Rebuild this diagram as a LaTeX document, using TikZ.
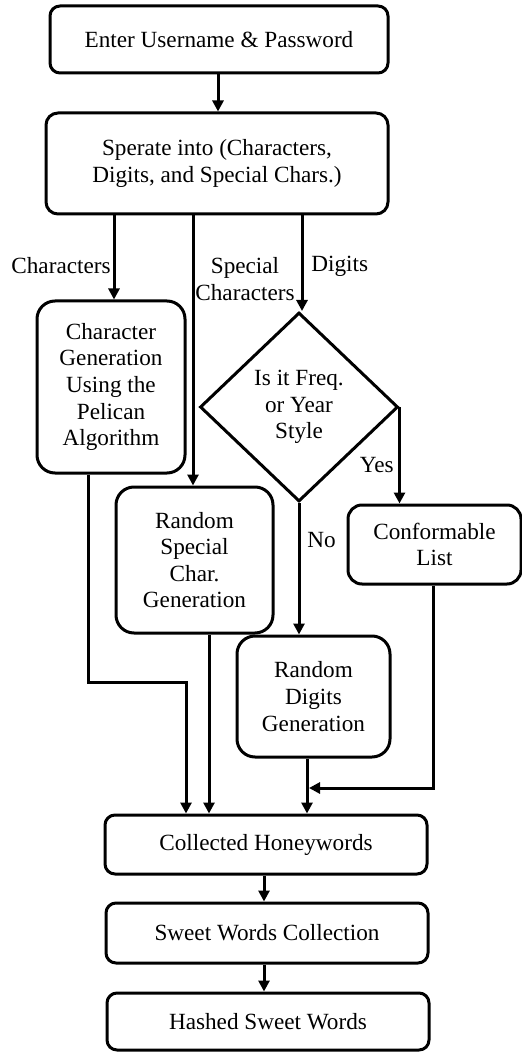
\documentclass[tikz,border=0pt]{standalone}
\usepackage{fontspec}
\setmainfont{Liberation Serif}
\usetikzlibrary{arrows.meta,calc,shapes.geometric}
\begin{document}
\begin{tikzpicture}[x=0.5pt,y=-0.5pt,
  every node/.style={font=\fontsize{11.6}{13.3}\selectfont, inner sep=0pt},
  box/.style={draw, line width=1.5pt, rounded corners=5pt, align=center},
  tallbox/.style={box, rounded corners=9pt},
  decision/.style={draw, line width=1.5pt, diamond, align=center, inner sep=0pt},
  arr/.style={line width=1.5pt, line join=miter, -{Triangle[length=5.5pt,width=5.5pt]}},
  lbl/.style={align=center}
]
\useasboundingbox (0,0) rectangle (521,1053);

\node[box, minimum width=169pt, minimum height=33.5pt] (enter) at (219,39.5) {Enter Username \& Password};
\node[box, rounded corners=6pt, minimum width=171pt, minimum height=50.5pt] (sep) at (217,163.5) {Sperate into (Characters,\\Digits, and Special Chars.)};
\node[tallbox, minimum width=74pt, minimum height=86pt] (chr) at (111,387) {Character\\Generation\\Using the\\Pelican\\Algorithm};
\node[tallbox, minimum width=78.5pt, minimum height=73pt] (spc) at (194.5,560) {Random\\Special\\Char.\\Generation};
\node[decision, minimum width=99pt, minimum height=94.5pt] (dec) at (299,407) {Is it Freq.\\or Year\\Style};
\node[tallbox, rounded corners=7pt, minimum width=86.5pt, minimum height=39.5pt] (conf) at (434.5,544.5) {Conformable\\List};
\node[tallbox, minimum width=76.5pt, minimum height=60.5pt] (dig) at (313.5,696.5) {Random\\Digits\\Generation};
\node[box, minimum width=161pt, minimum height=29.5pt] (coll) at (266,844.5) {Collected Honeywords};
\node[box, minimum width=161pt, minimum height=30pt] (sweet) at (267,933) {Sweet Words Collection};
\node[box, minimum width=161pt, minimum height=28.5pt] (hash) at (268,1021.5) {Hashed Sweet Words};

% labels
\node[lbl, anchor=east] (lchr) at (111,266) {Characters};
\node[lbl] (lspc) at (245,279) {Special\\Characters};
\node[lbl, anchor=west] (ldig) at (311,266) {Digits};
\node[lbl, anchor=east] (lyes) at (394,465) {Yes};
\node[lbl, anchor=west] (lno) at (307,540) {No};

% connectors
\coordinate (e1) at ($(enter.south)+(-1,0)$);
\draw[arr] (e1) -- (e1 |- sep.north);
\coordinate (c1) at ($(chr.north)+(3,0)$);
\draw[arr] (sep.south -| c1) -- (c1);
\coordinate (s1) at ($(spc.north)+(-1.5,0)$);
\draw[arr] (sep.south -| s1) -- (s1);
\coordinate (d1) at ($(dec.north)+(3,0)$);
\draw[arr] (sep.south -| d1) -- (d1);
\draw[arr] (dec.east) -- (dec.east |- conf.north);
\draw[arr] (dec.south) -- (dec.south |- dig.north);

\coordinate (c2) at ($(chr.south)+(-23,0)$);
\coordinate (c3) at ($(coll.north)+(-80,0)$);
\draw[arr] (c2) -- (c2 |- 0,682) -- (c3 |- 0,682) -- (c3);
\coordinate (s2) at ($(spc.south)+(14.5,0)$);
\draw[arr] (s2) -- (s2 |- coll.north);
\coordinate (g2) at ($(dig.south)+(-6.5,0)$);
\draw[arr] (g2) -- (g2 |- coll.north);
\coordinate (f2) at ($(conf.south)+(-1.5,0)$);
\coordinate (f3) at (309,788);
\draw[arr] (f2) -- (f2 |- f3) -- (f3);

\coordinate (h1) at ($(coll.south)+(-2,0)$);
\draw[arr] (h1) -- (h1 |- sweet.north);
\coordinate (w1) at ($(sweet.south)+(-3,0)$);
\draw[arr] (w1) -- (w1 |- hash.north);
\end{tikzpicture}
\end{document}
